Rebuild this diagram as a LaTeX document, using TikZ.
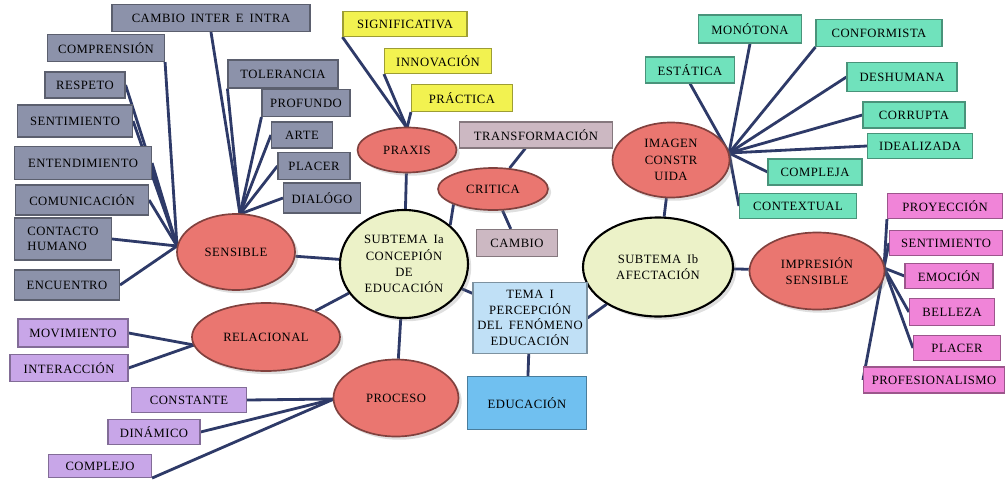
\documentclass[tikz,border=0pt]{standalone}
\usepackage{fontspec}
\setmainfont{Liberation Serif}[LetterSpace=4,WordSpace=1.6]
\usetikzlibrary{shapes.geometric,shadows,backgrounds}

\definecolor{linkblue}{RGB}{46,58,104}
\definecolor{slate}{RGB}{140,146,170}
\definecolor{salmon}{RGB}{234,118,112}
\definecolor{paleolive}{RGB}{236,242,200}
\definecolor{lemon}{RGB}{242,242,80}
\definecolor{mauve}{RGB}{204,184,194}
\definecolor{mint}{RGB}{112,226,188}
\definecolor{orchid}{RGB}{240,132,216}
\definecolor{lilac}{RGB}{200,166,232}
\definecolor{skyblue}{RGB}{192,224,246}
\definecolor{deepsky}{RGB}{112,192,240}

\begin{document}
\begin{tikzpicture}[x=0.025cm,y=-0.025cm,align=center,
        font=\fontsize{9}{11.5}\selectfont,
        link/.style={draw=linkblue,line width=2pt},
        card/.style={rectangle,fill=#1,draw=#1!65!black,line width=0.8pt,inner sep=1pt},
        sz/.style 2 args={minimum width=#1*0.025cm,minimum height=#2*0.025cm},
        topic/.style={ellipse,fill=salmon,draw=salmon!55!black,line width=1.2pt,inner sep=0pt,
            drop shadow={opacity=0.25}},
        subtopic/.style={ellipse,fill=paleolive,draw=black,line width=1.5pt,inner sep=0pt,
            drop shadow={opacity=0.25}}]
        \useasboundingbox (0,0) rectangle (1005,480);

        % centro
        \node[subtopic,sz={128}{108}] (subA) at (404,264) {SUBTEMA Ia\\CONCEPIÓN\\DE\\EDUCACIÓN};
        \node[subtopic,sz={150}{99}] (subB) at (658,267) {SUBTEMA Ib\\AFECTACIÓN};
        \node[card=skyblue,sz={114}{71},font=\fontsize{9}{11}\selectfont] (tema) at (530,318) {TEMA I\\PERCEPCIÓN\\DEL FENÓMENO\\EDUCACIÓN};
        \node[card=deepsky,sz={119}{53}] (educ) at (527,403) {EDUCACIÓN};

        % elipses rojas
        \node[topic,sz={118}{76}] (sensible) at (236,252) {SENSIBLE};
        \node[topic,sz={148}{68}] (relacional) at (266,337) {RELACIONAL};
        \node[topic,sz={125}{77}] (proceso) at (396,398) {PROCESO};
        \node[topic,sz={99}{45}] (praxis) at (407,150) {PRAXIS};
        \node[topic,sz={110}{42}] (critica) at (493,189) {CRITICA};
        \node[topic,sz={117}{75}] (imagen) at (671,160) {IMAGEN\\CONSTR\\UIDA};
        \node[topic,sz={135}{77}] (impresion) at (817,271) {IMPRESIÓN\\SENSIBLE};

        % sensible
        \node[card=slate,sz={198}{27}] (cambioA) at (211,18) {CAMBIO INTER E INTRA};
        \node[card=slate,sz={117}{27}] (comprension) at (106,48) {COMPRENSIÓN};
        \node[card=slate,sz={80}{26}] (respeto) at (85,85) {RESPETO};
        \node[card=slate,sz={115}{32}] (sentimientoA) at (75,121) {SENTIMIENTO};
        \node[card=slate,sz={137}{33}] (entendimiento) at (83,163) {ENTENDIMIENTO};
        \node[card=slate,sz={133}{30}] (comunicacion) at (82,200) {COMUNICACIÓN};
        \node[card=slate,sz={97}{42},align=left,font=\fontsize{9}{10.5}\selectfont] (contacto) at (63,239) {CONTACTO\\HUMANO};
        \node[card=slate,sz={105}{30}] (encuentro) at (67,285) {ENCUENTRO};
        \node[card=slate,sz={110}{28}] (tolerancia) at (283,74) {TOLERANCIA};
        \node[card=slate,sz={88}{27}] (profundo) at (306,103) {PROFUNDO};
        \node[card=slate,sz={61}{26}] (arte) at (302,135) {ARTE};
        \node[card=slate,sz={72}{27}] (placerA) at (314,166) {PLACER};
        \node[card=slate,sz={77}{30}] (dialogo) at (322,198) {DIALÓGO};

        % praxis y critica
        \node[card=lemon,sz={124}{25}] (significativa) at (405,24) {SIGNIFICATIVA};
        \node[card=lemon,sz={107}{25}] (innovacion) at (438,61) {INNOVACIÓN};
        \node[card=lemon,sz={101}{27}] (practica) at (462,98) {PRÁCTICA};
        \node[card=mauve,sz={153}{26}] (transformacion) at (536,135) {TRANSFORMACIÓN};
        \node[card=mauve,sz={81}{27}] (cambioB) at (517,243) {CAMBIO};

        % imagen construida
        \node[card=mint,sz={103}{28}] (monotona) at (750,29) {MONÓTONA};
        \node[card=mint,sz={126}{27}] (conformista) at (879,33) {CONFORMISTA};
        \node[card=mint,sz={89}{26}] (estatica) at (690,70) {ESTÁTICA};
        \node[card=mint,sz={110}{29}] (deshumana) at (902,77) {DESHUMANA};
        \node[card=mint,sz={102}{26}] (corrupta) at (914,115) {CORRUPTA};
        \node[card=mint,sz={105}{25}] (idealizada) at (920,146) {IDEALIZADA};
        \node[card=mint,sz={94}{26}] (compleja) at (815,172) {COMPLEJA};
        \node[card=mint,sz={117}{25}] (contextual) at (798,206) {CONTEXTUAL};

        % impresion sensible
        \node[card=orchid,sz={115}{25}] (proyeccion) at (945,206) {PROYECCIÓN};
        \node[card=orchid,sz={113}{25}] (sentimientoB) at (946,243) {SENTIMIENTO};
        \node[card=orchid,sz={88}{25}] (emocion) at (949,276) {EMOCIÓN};
        \node[card=orchid,sz={85}{27}] (belleza) at (952,312) {BELLEZA};
        \node[card=orchid,sz={87}{25}] (placerB) at (957,348) {PLACER};
        \node[card=orchid,sz={141}{26}] (profesionalismo) at (934,380) {PROFESIONALISMO};

        % relacional y proceso
        \node[card=lilac,sz={110}{28}] (movimiento) at (73,333) {MOVIMIENTO};
        \node[card=lilac,sz={118}{27}] (interaccion) at (69,368) {INTERACCIÓN};
        \node[card=lilac,sz={115}{25}] (constante) at (189,400) {CONSTANTE};
        \node[card=lilac,sz={92}{25}] (dinamico) at (154,432) {DINÁMICO};
        \node[card=lilac,sz={103}{23}] (complejo) at (100,466) {COMPLEJO};

        % puntos de union
        \coordinate (sL) at (177,246);
        \coordinate (sT) at (240,214);
        \coordinate (pT) at (407,128);
        \coordinate (iE) at (729,153);
        \coordinate (mE) at (884,268);
        \coordinate (rW) at (194,345);
        \coordinate (cW) at (334,399);

        \begin{scope}[on background layer]
        \path[link] (sensible) edge (subA)
                    (relacional) edge (subA)
                    (proceso) edge (subA)
                    (praxis) edge (subA)
                    (critica.south west) edge (subA.40)
                    (critica) edge (cambioB)
                    (transformacion) edge (critica)
                    (subA) edge (tema)
                    (tema) edge (educ)
                    (tema.east) edge (subB)
                    (imagen) edge (subB)
                    (subB) edge (impresion);
        \path[link] (comprension.south east) edge (sL)
                    (respeto.east) edge (sL)
                    (sentimientoA.east) edge (sL)
                    (entendimiento.east) edge (sL)
                    (comunicacion.east) edge (sL)
                    (contacto.east) edge (sL)
                    (encuentro.east) edge (sL)
                    (cambioA.south) edge (sT)
                    (tolerancia.south west) edge (sT)
                    (profundo.south west) edge (sT)
                    (arte.west) edge (sT)
                    (placerA.west) edge (sT)
                    (dialogo.west) edge (sT);
        \path[link] (significativa.south west) edge (pT)
                    (innovacion.south west) edge (pT)
                    (practica.south west) edge (pT);
        \path[link] (estatica.south) edge (iE)
                    (monotona.south) edge (iE)
                    (conformista.south west) edge (iE)
                    (deshumana.west) edge (iE)
                    (corrupta.west) edge (iE)
                    (idealizada.west) edge (iE)
                    (compleja.west) edge (iE)
                    (contextual.west) edge (iE);
        \path[link] (proyeccion.south west) edge (mE)
                    (sentimientoB.west) edge (mE)
                    (emocion.west) edge (mE)
                    (belleza.west) edge (mE)
                    (placerB.west) edge (mE)
                    (profesionalismo.west) edge (mE);
        \path[link] (movimiento.east) edge (rW)
                    (interaccion.east) edge (rW)
                    (constante.east) edge (cW)
                    (dinamico.east) edge (cW)
                    (complejo.south east) edge (cW);
        \end{scope}
\end{tikzpicture}
\end{document}
